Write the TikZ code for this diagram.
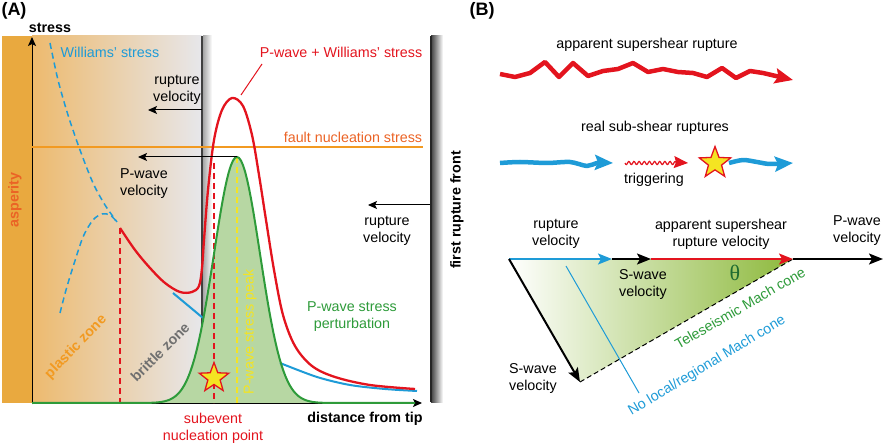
\documentclass[tikz,border=0pt]{standalone}
\usepackage{fontspec}
\setmainfont{Liberation Sans}
\newfontfamily\thetafont{Liberation Serif}
\usetikzlibrary{shapes.geometric,arrows.meta,calc,positioning}

\definecolor{curvered}{HTML}{E3141E}
\definecolor{wilblue}{HTML}{1E9BD7}
\definecolor{pgreen}{HTML}{2E9B3A}
\definecolor{pfill}{HTML}{B7D7A3}
\definecolor{peakyellow}{HTML}{F4E422}
\definecolor{faultorange}{HTML}{F29A21}
\definecolor{asporange}{HTML}{E9A93F}
\definecolor{aspred}{HTML}{EB6325}
\definecolor{plasticL}{HTML}{EDBA6E}
\definecolor{plasticM}{HTML}{EEE4DA}
\definecolor{brittleR}{HTML}{E7E7EB}
\definecolor{brittlegray}{HTML}{707070}
\definecolor{thetagreen}{HTML}{1E6B30}
\definecolor{machgreen}{HTML}{8DB93C}

\begin{document}
\begin{tikzpicture}[x=1pt,y=-1pt,
  every node/.style={inner sep=0pt,align=center,font=\fontsize{14.3}{17}\selectfont},
  head/.style={font=\bfseries\fontsize{18}{20}\selectfont},
  boldlbl/.style={font=\bfseries\fontsize{14.3}{17}\selectfont},
  thinarr/.style={line width=1pt,-{Stealth[length=9pt,width=8pt,inset=2pt]}},
  velarr/.style={line width=2pt,-{Stealth[length=14pt,width=11pt,inset=3pt]}},
  fatarr/.style={line width=4.5pt,line join=round,-{Stealth[length=18pt,width=15pt,inset=3pt]}},
  vdash/.style={line width=1.5pt,dash pattern=on 6pt off 4pt},
  quake/.style={star,star points=5,star point ratio=2.4,fill=peakyellow,draw=curvered,line width=1.3pt,minimum size=31pt}]
\useasboundingbox (0,0) rectangle (886,446);

% panel A background
\fill[asporange] (2,36) rectangle (32,403);
\shade[left color=plasticL,middle color=plasticM,right color=brittleR] (32,36) rectangle (202,403);
\shade[left color=gray!70,right color=white] (203,36) rectangle (212,403);
\coordinate (tipTop) at (202,36);
\coordinate (tipBot) at (202,403);
\draw[line width=2pt,black!75] (tipTop) -- (tipBot);
\shade[left color=black!75,right color=white] (431,36) rectangle (443,402);
\coordinate (frontTop) at (431,36);
\coordinate (frontBot) at (431,402);
\draw[line width=1.5pt,black!85] (frontTop) -- (frontBot);

% axes
\coordinate (origin) at (32,403);
\coordinate (yend) at (32,37);
\coordinate (xend) at (422,403);
\draw[thinarr] (origin) -- (yend);
\draw[thinarr] (origin) -- (xend);

% P-wave perturbation
\fill[pfill] plot[domain=150:330,samples=90] (\x,{403-246*exp(-0.5*((\x-237)/23)^2)}) -- cycle;

\coordinate (faultL) at (32,147);
\coordinate (faultR) at (423,147);
\draw[faultorange,line width=2pt] (faultL) -- (faultR);

% Williams' stress
\draw[wilblue,vdash] plot[smooth] coordinates {(50,43) (58,80) (68,115) (80,150) (93,183) (105,205) (117,222)};
\draw[wilblue,vdash] plot[smooth] coordinates {(60,313) (66,290) (73,267) (83,237) (93,220) (102,214) (110,215) (117,222)};
\draw[wilblue,line width=2pt] (173,293) -- (203,318);
\draw[wilblue,line width=2pt] plot[smooth] coordinates {(280,363) (317,377) (350,385) (385,389) (417,391)};

\draw[curvered,vdash] (120,228) -- (120,403);
\draw[curvered,vdash] (214,163) -- (214,403);
\draw[peakyellow,vdash] (237,157) -- (237,403);

\draw[pgreen,line width=2pt] (32,403) -- plot[domain=150:330,samples=90] (\x,{403-246*exp(-0.5*((\x-237)/23)^2)}) -- (415,403);
\draw[curvered,line width=2.3pt] plot[smooth,tension=0.55] coordinates {(120,228) (135,250) (150,268) (165,283) (180,292) (192,292) (199,286) (202,268) (204,240) (208,190) (214,140) (222,110) (232,98) (243,106) (252,135) (259,175) (266,220) (274,270) (283,315) (295,346) (312,366) (335,377) (370,385) (415,389)};

\node[quake] (subevent) at (214,378) {};

% velocities
\coordinate (rvFrom) at (202,110);
\coordinate (rvTo) at (148,110);
\draw[thinarr] (rvFrom) -- (rvTo);
\coordinate (gpeak) at (237,157);
\coordinate (pvTo) at (138,157);
\draw[thinarr] (gpeak) -- (pvTo);
\coordinate (frontArr) at (430,205);
\coordinate (frTo) at (368,205);
\draw[thinarr] (frontArr) -- (frTo);

% labels A
\node[head] (panelA) at (14,11) {(A)};
\node[boldlbl] (stressLbl) at (50,28) {stress};
\node[text=wilblue] (williamsLbl) at (110,52) {Williams' stress};
\node (rvLbl) at (177,90) {rupture\\velocity};
\node (pvLbl) at (144,184) {P-wave\\velocity};
\node[text=curvered] (sumLbl) at (341,52) {P-wave + Williams' stress};
\coordinate (sumLead) at (262,64);
\coordinate (sumPeak) at (241,95);
\draw[curvered,line width=1pt] (sumLead) -- (sumPeak);
\node[text=aspred] (faultLbl) at (353,137) {fault nucleation stress};
\node (frLbl) at (387,231) {rupture\\velocity};
\node[text=pgreen] (pertLbl) at (352,317) {P-wave stress\\perturbation};
\node[boldlbl] (distLbl) at (365,419) {distance from tip};
\node[text=curvered] (subLbl) at (213,428) {subevent\\nucleation point};
\node[boldlbl,text=aspred,rotate=90] (aspLbl) at (15,200) {asperity};
\node[boldlbl,text=faultorange,rotate=46] (plasticLbl) at (76,347) {plastic zone};
\node[boldlbl,text=brittlegray,rotate=45] (brittleLbl) at (160,352) {brittle zone};
\node[text=peakyellow,rotate=90] (peakLbl) at (250,332) {P-wave stress peak};
\node[boldlbl,rotate=90] (frontLbl) at (457,210) {first rupture front};

% panel B
\node[head] (panelB) at (482,11) {(B)};
\node (appLbl) at (647,45) {apparent supershear rupture};
\draw[curvered,fatarr] plot coordinates {(500,74) (515,77) (530,73) (545,62) (559,77) (573,63) (588,76) (603,71) (618,69) (633,63) (648,72) (663,69) (678,72) (693,73) (707,77) (722,68) (736,78) (750,71) (763,73) (793,80)};
\node (realLbl) at (655,128) {real sub-shear ruptures};
\draw[wilblue,fatarr] plot[smooth] coordinates {(500,163) (520,162) (547,163) (570,162) (587,166) (597,163) (613,163)};
\draw[curvered,line width=1.2pt,-{Stealth[length=14pt,width=12pt,inset=2pt]}] plot[domain=625:676,samples=70] (\x,{163+1.6*sin(70*(\x-625))}) -- (688,163);
\node (trigLbl) at (654,180) {triggering};
\node[quake,minimum size=33pt] (trigStar) at (715,163) {};
\draw[wilblue,fatarr] plot[smooth] coordinates {(729,163) (743,160) (757,162) (770,164) (793,163)};

\coordinate (vO) at (509,259);
\coordinate (vr) at (612,259);
\coordinate (vs) at (651,259);
\coordinate (vsup) at (793,259);
\coordinate (vp) at (883,259);
\coordinate (vsd) at (580,382);
\shade[left color=white,right color=machgreen] (vO) -- (vsup) -- (vsd) -- cycle;
\coordinate (noMachTop) at (566,266);
\coordinate (noMachBot) at (639,393);
\draw[wilblue,line width=1pt] (noMachTop) -- (noMachBot);
\draw[line width=1pt,dash pattern=on 5pt off 3pt] (vsd) -- (vsup);
\draw[velarr,wilblue] (vO) -- (vr);
\draw[velarr] (vr) -- (vs);
\draw[velarr,curvered] (vs) -- (vsup);
\draw[velarr] (vsup) -- (vp);
\draw[velarr] (vO) -- (vsd);

\node (rupvLbl) at (556,234) {rupture\\velocity};
\node (appvLbl) at (721,234) {apparent supershear\\rupture velocity};
\node (pwvLbl) at (857,231) {P-wave\\velocity};
\node (swvLbl) at (643,284) {S-wave\\velocity};
\node (swdLbl) at (533,378) {S-wave\\velocity};
\node[text=thetagreen,font=\thetafont\fontsize{22}{24}\selectfont] (thetaLbl) at (735,273) {θ};
\node[text=pgreen,rotate=30] (teleLbl) at (740,308) {Teleseismic Mach cone};
\node[text=wilblue,rotate=31] (localLbl) at (707,366) {No local/regional Mach cone};
\end{tikzpicture}
\end{document}
